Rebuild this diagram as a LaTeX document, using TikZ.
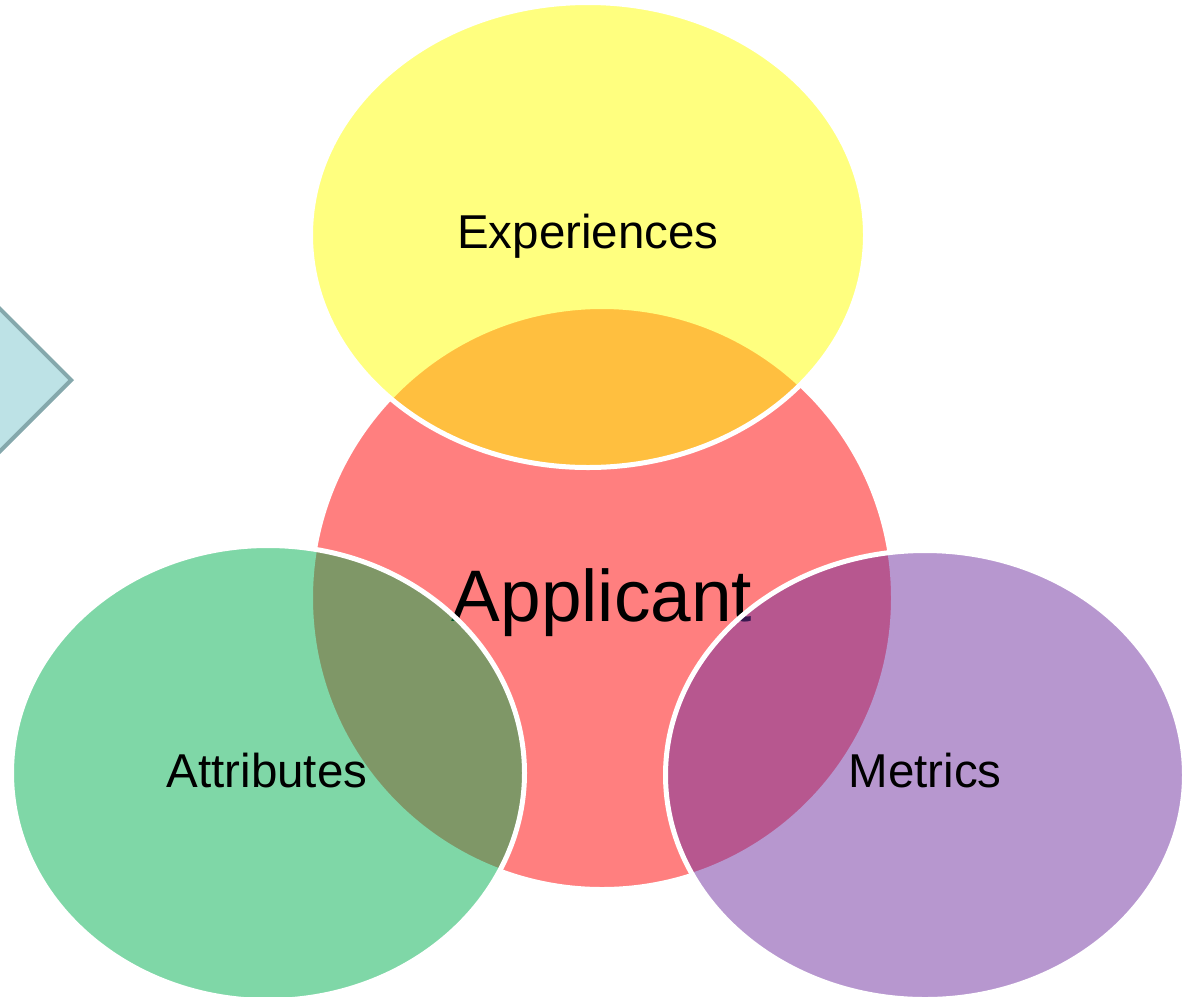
\documentclass[tikz,border=0pt]{standalone}
\usepackage{fontspec}
\setmainfont{Liberation Sans}
\usetikzlibrary{shapes.geometric}
\definecolor{bubRed}{HTML}{FF0000}
\definecolor{bubYellow}{HTML}{FFFF00}
\definecolor{bubGreen}{HTML}{00B050}
\definecolor{bubPurple}{HTML}{7030A0}
\definecolor{arrowFill}{RGB}{189,226,230}
\definecolor{arrowLine}{RGB}{133,168,172}
\begin{document}
\begin{tikzpicture}[x=1pt, y=-1pt,
    bubble/.style={ellipse, draw=white, line width=5pt, fill opacity=0.5, inner sep=0pt},
    lbl/.style={anchor=base, font=\fontsize{47.5}{57}\selectfont}]
  \useasboundingbox (0,0) rectangle (1190,996);
  \clip (0,0) rectangle (1190,996);
  % arrow cut off at the left edge
  \node[diamond, draw=arrowLine, fill=arrowFill, line width=4pt,
        minimum width=204pt, minimum height=204pt, inner sep=0pt] (arrow) at (-30,380) {};
  % centre circle
  \node[bubble, fill=bubRed, minimum width=583pt, minimum height=583pt] (applicant) at (602,598) {};
  \node[lbl, font=\fontsize{73}{88}\selectfont] (applicantText) at (602,621.5) {Applicant};
  % outer ellipses
  \node[bubble, fill=bubYellow, minimum width=555pt, minimum height=465pt] (experiences) at (588,235) {};
  \node[lbl] (experiencesText) at (588,248) {Experiences};
  \node[bubble, fill=bubGreen, minimum width=513pt, minimum height=455pt] (attributes) at (268,773) {};
  \node[lbl] (attributesText) at (267,787) {Attributes};
  \node[bubble, fill=bubPurple, minimum width=519pt, minimum height=449pt] (metrics) at (925,775) {};
  \node[lbl] (metricsText) at (925,787) {Metrics};
\end{tikzpicture}
\end{document}
